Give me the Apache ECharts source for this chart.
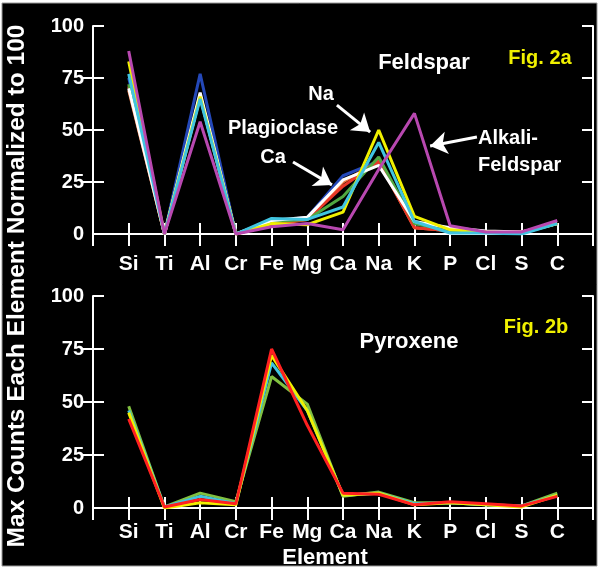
<!DOCTYPE html>
<html><head><meta charset="utf-8">
<script src="https://cdn.jsdelivr.net/npm/echarts@6/dist/echarts.min.js"></script>
<style>html,body{margin:0;padding:0;background:#fff}#c{width:604px;height:569px}</style>
</head><body><div id="c"></div>
<script>
// ---- data ----
const elements = ['Si','Ti','Al','Cr','Fe','Mg','Ca','Na','K','P','Cl','S','C'];
const yTicks = [0, 25, 50, 75, 100];
// Fig. 2a Feldspar (normalized to 100)
const fBlue    = [75, 0, 77, 0, 6,   8,   28,  35, 5,   2,   1,   1,   5];
const fOrange  = [69, 0, 66, 0, 5,   7,   25,  35, 3,   1.5, 1,   1,   5];
const fRed     = [71, 0, 66, 0, 4.5, 7,   23,  35, 3,   1.5, 1,   1,   5];
const fGreen   = [72, 0, 67, 0, 6,   7,   18,  37, 5,   1.5, 1,   0.5, 5];
const fWhite   = [70, 0, 68, 0, 6.5, 8,   26,  33, 6,   3,   1.5, 1,   5];
const fYellow  = [83, 0, 66, 0, 5,   4.5, 10.5,50, 8.5, 2,   1,   0.5, 5];
const fCyan    = [77, 0, 65, 0, 7.5, 7,   13,  44, 6,   0.5, 0.5, 0,   5];
const fMagenta = [88, 0, 54, 0, 3.5, 5,   2,   31, 58,  4,   1,   1,   6.5];
// Fig. 2b Pyroxene
const pGreen  = [48, 0.5, 7,   3,   62,   49, 5.5, 7.5, 2.5, 2.5, 1.5, 1,   7];
const pCyan   = [46, 0.5, 5.5, 2,   68.5, 46, 6,   7,   2,   2.5, 1.5, 1,   6];
const pYellow = [45, 0,   2.5, 1.5, 72,   46, 6,   7,   1.5, 2.5, 1.5, 0.5, 6];
const pRed    = [42, 0.5, 4,   2,   75,   39, 7,   6.5, 1.5, 3,   2,   1,   5.5];

const F = '"Liberation Sans", Arial, sans-serif';
const W = '#fff';
const toPts = arr => arr.map((v, i) => [i + 1, v]);

function xAxes(g, margin) {
  return [
    {gridIndex: g, type: 'value', min: 0, max: elements.length + 1, interval: 1, position: 'bottom',
     axisLine: {lineStyle: {color: W, width: 2}},
     axisTick: {inside: true, length: 11, lineStyle: {color: W, width: 2}},
     axisLabel: {formatter: v => elements[v - 1] || '', color: W, fontSize: 21, fontWeight: 'bold', fontFamily: F, margin: margin},
     splitLine: {show: false}},
    {gridIndex: g, type: 'value', min: 0, max: elements.length + 1, interval: 1, position: 'top',
     axisLine: {lineStyle: {color: W, width: 2}},
     axisTick: {inside: true, length: 12, lineStyle: {color: W, width: 2}},
     axisLabel: {show: false}, splitLine: {show: false}}
  ];
}
function yAxes(g) {
  const base = {gridIndex: g, type: 'value', min: yTicks[0], max: yTicks[yTicks.length - 1], interval: 25, splitLine: {show: false}};
  return [
    Object.assign({}, base, {position: 'left',
      axisLine: {show: true, lineStyle: {color: W, width: 2}},
      axisTick: {show: true, inside: true, length: 11, lineStyle: {color: W, width: 2}},
      axisLabel: {color: W, fontSize: 20, fontWeight: 'bold', fontFamily: F, margin: 9}}),
    Object.assign({}, base, {position: 'left',
      axisLine: {show: false},
      axisTick: {show: true, inside: false, length: 10, customValues: yTicks.slice(1, -1), lineStyle: {color: W, width: 2}},
      axisLabel: {show: false}}),
    Object.assign({}, base, {position: 'right',
      axisLine: {show: true, lineStyle: {color: W, width: 2}},
      axisTick: {show: true, inside: true, length: 11, lineStyle: {color: W, width: 2}},
      axisLabel: {show: false}})
  ];
}
function line(data, color, xi, yi, extra) {
  return Object.assign({type: 'line', data: toPts(data), xAxisIndex: xi, yAxisIndex: yi, symbol: 'none',
    lineStyle: {color: color, width: 3}, itemStyle: {color: color}, silent: true, z: 3}, extra || {});
}
const arrowStyle = {color: W, width: 3, type: 'solid'};
function arrow(from, to) {
  return [{coord: from, symbol: 'none'}, {coord: to, symbol: 'arrow', symbolSize: 17}];
}

const chart = echarts.init(document.getElementById('c'));
chart.setOption({
  animation: false,
  backgroundColor: '#fff',
  grid: [
    {left: 93, right: 11, top: 26, height: 208},
    {left: 93, right: 11, top: 296, height: 212}
  ],
  xAxis: [...xAxes(0, 20), ...xAxes(1, 14)],
  yAxis: [...yAxes(0), ...yAxes(1)],
  series: [
    line(fBlue, '#2448b8', 0, 0),
    line(fOrange, '#f07840', 0, 0),
    line(fRed, '#e83828', 0, 0),
    line(fGreen, '#50a840', 0, 0),
    line(fWhite, '#ffffff', 0, 0),
    line(fYellow, '#f0f000', 0, 0),
    line(fCyan, '#40c4e0', 0, 0),
    line(fMagenta, '#b848b0', 0, 0, {
      markLine: {silent: true, animation: false, label: {show: false}, lineStyle: arrowStyle,
        data: [arrow([6.83, 62], [7.76, 49]), arrow([5.6, 34.6], [6.69, 23.6]), arrow([10.75, 46.6], [9.44, 42.3])]}
    }),
    line(pGreen, '#80c040', 2, 3),
    line(pCyan, '#40c4e0', 2, 3),
    line(pYellow, '#f0f000', 2, 3),
    line(pRed, '#ff2020', 2, 3)
  ],
  graphic: [
    {type: 'rect', z: -10, shape: {x: 2, y: 3, width: 595, height: 563}, style: {fill: '#000', stroke: '#999', lineWidth: 1}},
    {type: 'text', rotation: Math.PI / 2, x: 17, y: 286, style: {text: 'Max Counts Each Element Normalized to 100', fill: W, font: 'bold 24.5px ' + F, align: 'center', verticalAlign: 'middle'}},
    {type: 'text', x: 325, y: 558, style: {text: 'Element', fill: W, font: 'bold 22px ' + F, align: 'center', verticalAlign: 'middle'}},
    {type: 'text', x: 424, y: 63, style: {text: 'Feldspar', fill: W, font: 'bold 22px ' + F, align: 'center', verticalAlign: 'middle'}},
    {type: 'text', x: 540, y: 58, style: {text: 'Fig. 2a', fill: '#f0f000', font: 'bold 20px ' + F, align: 'center', verticalAlign: 'middle'}},
    {type: 'text', x: 321, y: 94, style: {text: 'Na', fill: W, font: 'bold 20px ' + F, align: 'center', verticalAlign: 'middle'}},
    {type: 'text', x: 283, y: 128, style: {text: 'Plagioclase', fill: W, font: 'bold 20px ' + F, align: 'center', verticalAlign: 'middle'}},
    {type: 'text', x: 273, y: 157, style: {text: 'Ca', fill: W, font: 'bold 20px ' + F, align: 'center', verticalAlign: 'middle'}},
    {type: 'text', x: 478, y: 138, style: {text: 'Alkali-', fill: W, font: 'bold 20px ' + F, align: 'left', verticalAlign: 'middle'}},
    {type: 'text', x: 478, y: 165, style: {text: 'Feldspar', fill: W, font: 'bold 20px ' + F, align: 'left', verticalAlign: 'middle'}},
    {type: 'text', x: 409, y: 342, style: {text: 'Pyroxene', fill: W, font: 'bold 22px ' + F, align: 'center', verticalAlign: 'middle'}},
    {type: 'text', x: 536, y: 327, style: {text: 'Fig. 2b', fill: '#f0f000', font: 'bold 20px ' + F, align: 'center', verticalAlign: 'middle'}}
  ]
});
</script></body></html>
